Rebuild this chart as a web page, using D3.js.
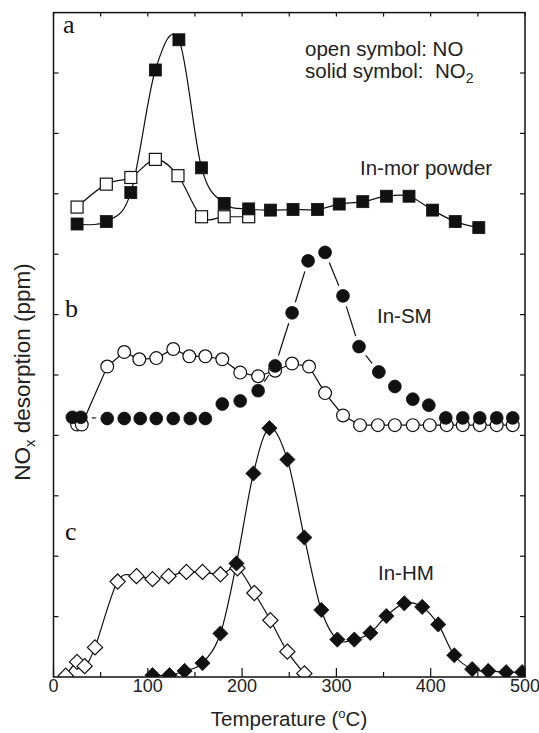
<!doctype html>
<meta charset="utf-8">
<style>
body { margin: 0; background: #fff; }
#chart svg { display: block; font-family: "Liberation Sans", Arial, sans-serif; }
.tick-label { font-size: 18px; fill: #222; }
.note { font-size: 20.5px; fill: #222; }
.panel-letter { font-family: "Liberation Serif", "Times New Roman", serif; font-size: 26px; fill: #111; }
</style>
<div id="chart"></div>
<script src="https://cdn.jsdelivr.net/npm/d3@7"></script>
<script>
// panel a: In-mor powder (open = NO, solid = NO2), offset units on the y axis
var tempA_NO = [25, 56, 82, 108, 132, 157, 181, 207];
var valA_NO = [7.78, 8.16, 8.27, 8.57, 8.30, 7.62, 7.62, 7.62];
var tempA_NO2 = [25, 56, 82, 108, 133, 157, 181, 207, 230, 254, 280, 303, 328, 353, 377, 402, 426, 451];
var valA_NO2 = [7.50, 7.54, 8.02, 10.05, 10.55, 8.43, 7.84, 7.75, 7.73, 7.74, 7.74, 7.83, 7.87, 7.96, 7.96, 7.73, 7.54, 7.44];

// panel b: In-SM
var tempB_NO = [25, 30, 57, 75, 91, 109, 127, 144, 161, 179, 198, 217, 235, 253, 271, 288, 307,
    325, 344, 362, 381, 399, 417, 434, 452, 470, 487];
var valB_NO = [4.18, 4.18, 5.14, 5.38, 5.26, 5.28, 5.43, 5.31, 5.31, 5.26, 5.04, 4.98, 5.07, 5.19, 5.14, 4.70, 4.33,
    4.17, 4.17, 4.17, 4.17, 4.17, 4.17, 4.17, 4.17, 4.17, 4.17];
var tempB_NO2 = [20, 29, 57, 75, 92, 109, 127, 145, 161, 179, 198, 217, 235, 253, 270, 288, 307,
    324, 345, 362, 381, 398, 416, 434, 452, 470, 487];
var valB_NO2 = [4.30, 4.30, 4.28, 4.28, 4.28, 4.28, 4.28, 4.28, 4.28, 4.52, 4.57, 4.74, 5.15, 6.03, 6.89, 7.03, 6.31,
    5.47, 5.05, 4.81, 4.60, 4.50, 4.29, 4.29, 4.29, 4.29, 4.29];

// panel c: In-HM
var tempC_NO = [13, 25, 33, 44, 68, 88, 105, 122, 141, 158, 177, 195, 213, 230, 248, 266];
var valC_NO = [0.02, 0.25, 0.18, 0.49, 1.58, 1.67, 1.62, 1.67, 1.74, 1.74, 1.70, 1.80, 1.39, 0.94, 0.42, 0.06];
var tempC_NO2 = [105, 123, 139, 158, 177, 194, 212, 229, 248, 266, 284, 301, 319, 336, 353, 372, 391, 408, 425, 444, 461, 480, 497];
var valC_NO2 = [0.03, 0.03, 0.10, 0.23, 0.72, 1.88, 3.37, 4.12, 3.60, 2.31, 1.11, 0.62, 0.62, 0.73, 1.01, 1.22, 1.16, 0.87, 0.36, 0.13, 0.10, 0.08, 0.08];

var xTicks = [0, 100, 200, 300, 400, 500];
var xMinor = [50, 150, 250, 350, 450];
var yTicks = d3.range(1, 11);
</script>
<script>
var width = 539;
var height = 733;

var x = d3.scaleLinear().domain([0, 500]).range([53.5, 525]);
var y = d3.scaleLinear().domain([0, 11]).range([677, 12.6]);

var svg = d3.select('#chart').append('svg')
    .attr('width', width)
    .attr('height', height);

svg.append('clipPath').attr('id', 'plotClip')
    .append('rect')
    .attr('x', x(0)).attr('y', y(11))
    .attr('width', x(500) - x(0)).attr('height', y(0) - y(11));

function pts(temps, vals) {
    return temps.map(function (t, i) { return {t: t, v: vals[i]}; });
}

var smooth = d3.line()
    .x(function (d) { return x(d.t); })
    .y(function (d) { return y(d.v); })
    .curve(d3.curveCatmullRom.alpha(0));
var straight = d3.line()
    .x(function (d) { return x(d.t); })
    .y(function (d) { return y(d.v); });

var plot = svg.append('g').attr('clip-path', 'url(#plotClip)');

function drawLine(data, gen) {
    plot.append('path')
        .attr('d', gen(data))
        .attr('fill', 'none')
        .attr('stroke', '#111')
        .attr('stroke-width', 1.2);
}

// line broken around each symbol (used for the solid circles of In-SM)
function drawGappedLine(data, gap) {
    for (var i = 0; i < data.length - 1; i++) {
        var x1 = x(data[i].t), y1 = y(data[i].v);
        var x2 = x(data[i + 1].t), y2 = y(data[i + 1].v);
        var len = Math.hypot(x2 - x1, y2 - y1);
        if (len <= 2 * gap) continue;
        var ux = (x2 - x1) / len, uy = (y2 - y1) / len;
        plot.append('line')
            .attr('x1', x1 + ux * gap).attr('y1', y1 + uy * gap)
            .attr('x2', x2 - ux * gap).attr('y2', y2 - uy * gap)
            .attr('stroke', '#111')
            .attr('stroke-width', 1.2);
    }
}

function drawMarkers(data, shape, solid) {
    var g = plot.append('g');
    var sel = g.selectAll('.m').data(data).enter();
    var m;
    if (shape === 'square') {
        m = sel.append('rect')
            .attr('x', function (d) { return x(d.t) - 6; })
            .attr('y', function (d) { return y(d.v) - 6; })
            .attr('width', 12).attr('height', 12);
    } else if (shape === 'circle') {
        m = sel.append('circle')
            .attr('cx', function (d) { return x(d.t); })
            .attr('cy', function (d) { return y(d.v); })
            .attr('r', 6.4);
    } else {
        m = sel.append('path')
            .attr('d', function (d) {
                var cx = x(d.t), cy = y(d.v), r = 7.6;
                return 'M' + cx + ',' + (cy - r) + 'L' + (cx + r) + ',' + cy +
                    'L' + cx + ',' + (cy + r) + 'L' + (cx - r) + ',' + cy + 'Z';
            });
    }
    m.attr('fill', solid ? '#111' : '#fff')
        .attr('stroke', '#111')
        .attr('stroke-width', solid ? 0.8 : 1.2);
}

// panel a
var aNO = pts(tempA_NO, valA_NO), aNO2 = pts(tempA_NO2, valA_NO2);
drawLine(aNO, smooth);
drawLine(aNO2, smooth);
drawMarkers(aNO, 'square', false);
drawMarkers(aNO2, 'square', true);

// panel b
var bNO = pts(tempB_NO, valB_NO), bNO2 = pts(tempB_NO2, valB_NO2);
drawLine(bNO, straight);
drawMarkers(bNO, 'circle', false);
drawGappedLine(bNO2, 11);
drawMarkers(bNO2, 'circle', true);

// panel c
var cNO = pts(tempC_NO, valC_NO), cNO2 = pts(tempC_NO2, valC_NO2);
drawLine(cNO, smooth);
drawLine(cNO2, smooth);
drawMarkers(cNO, 'diamond', false);
drawMarkers(cNO2, 'diamond', true);

// frame and inward ticks
var frame = svg.append('g').attr('stroke', '#111').attr('fill', 'none');
frame.append('rect')
    .attr('x', x(0)).attr('y', y(11))
    .attr('width', x(500) - x(0)).attr('height', y(0) - y(11))
    .attr('stroke-width', 1.5);

xTicks.forEach(function (t) {
    frame.append('line').attr('x1', x(t)).attr('x2', x(t)).attr('y1', y(0)).attr('y2', y(0) - 9);
    frame.append('line').attr('x1', x(t)).attr('x2', x(t)).attr('y1', y(11)).attr('y2', y(11) + 4);
});
xMinor.forEach(function (t) {
    frame.append('line').attr('x1', x(t)).attr('x2', x(t)).attr('y1', y(0)).attr('y2', y(0) - 5);
    frame.append('line').attr('x1', x(t)).attr('x2', x(t)).attr('y1', y(11)).attr('y2', y(11) + 4);
});
yTicks.forEach(function (v) {
    frame.append('line').attr('x1', x(0)).attr('x2', x(0) + 5).attr('y1', y(v)).attr('y2', y(v));
    frame.append('line').attr('x1', x(500)).attr('x2', x(500) - 5).attr('y1', y(v)).attr('y2', y(v));
});
frame.selectAll('line').attr('stroke-width', 1.2);

svg.append('g').selectAll('text').data(xTicks).enter()
    .append('text')
    .attr('class', 'tick-label')
    .attr('x', function (d) { return x(d); })
    .attr('y', 692)
    .attr('text-anchor', 'middle')
    .text(function (d) { return d; });

// axis titles
var xt = svg.append('text')
    .attr('class', 'note')
    .attr('x', 289).attr('y', 726)
    .attr('text-anchor', 'middle');
xt.append('tspan').text('Temperature (');
xt.append('tspan').attr('dy', -8).attr('font-size', 13).text('o');
xt.append('tspan').attr('dy', 8).text('C)');

var yt = svg.append('text')
    .attr('class', 'note')
    .attr('transform', 'translate(30,372) rotate(-90)')
    .attr('text-anchor', 'middle')
    .style('font-size', '22.5px');
yt.append('tspan').text('NO');
yt.append('tspan').attr('dy', 5).attr('font-size', 15).text('x');
yt.append('tspan').attr('dy', -5).text(' desorption (ppm)');

// notes
svg.append('text').attr('class', 'note').attr('x', 305).attr('y', 56).text('open symbol: NO');
var solidNote = svg.append('text').attr('class', 'note').attr('x', 305).attr('y', 78);
solidNote.append('tspan').text('solid symbol:\u00a0 NO');
solidNote.append('tspan').attr('dy', 5).attr('font-size', 14).text('2');

svg.append('text').attr('class', 'note').attr('x', 360).attr('y', 175).text('In-mor powder');
svg.append('text').attr('class', 'note').attr('x', 377).attr('y', 323).text('In-SM');
svg.append('text').attr('class', 'note').attr('x', 378).attr('y', 580).text('In-HM');

svg.append('text').attr('class', 'panel-letter').attr('x', 63).attr('y', 33).text('a');
svg.append('text').attr('class', 'panel-letter').attr('x', 65).attr('y', 317).text('b');
svg.append('text').attr('class', 'panel-letter').attr('x', 65).attr('y', 540).text('c');
</script>
